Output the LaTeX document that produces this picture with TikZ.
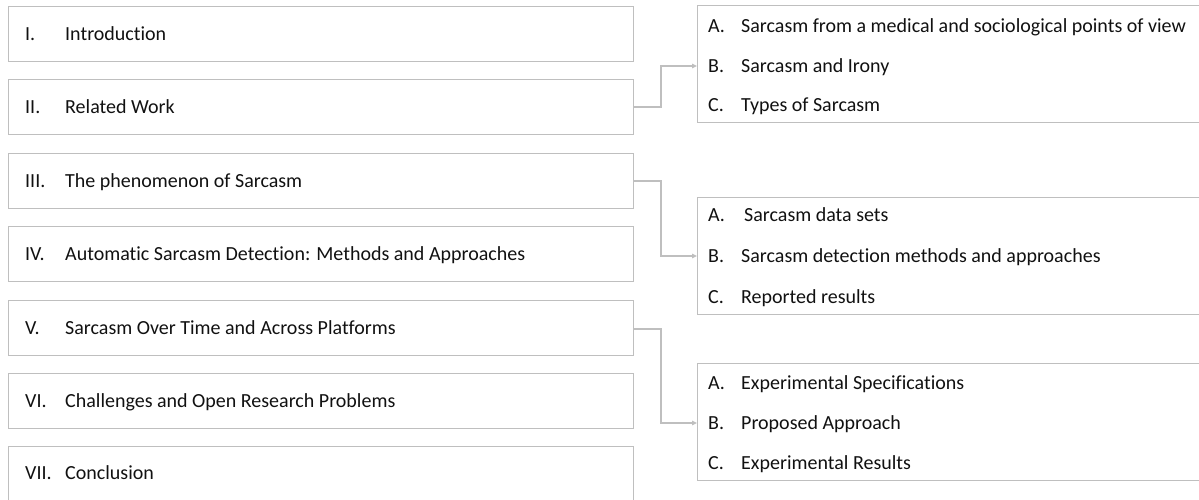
\documentclass[tikz,border=0pt]{standalone}
\usepackage{fontspec}
\setmainfont{Carlito}[Ligatures=NoCommon]
\usetikzlibrary{arrows.meta,calc}
\definecolor{boxgray}{HTML}{BFBFBF}
\definecolor{txt}{HTML}{111111}
\begin{document}
\begin{tikzpicture}[x=1pt,y=-1pt,
  secbox/.style={draw=boxgray,line width=1.3pt,rectangle,anchor=north west,minimum width=625pt,minimum height=55pt,inner sep=0pt},
  subbox/.style={draw=boxgray,line width=1.3pt,rectangle,anchor=north west,minimum width=510pt,minimum height=117pt,inner sep=0pt},
  lbl/.style={anchor=base west,yshift=-6.8pt,inner sep=0pt,font=\fontsize{20}{24}\selectfont,text=txt},
  conn/.style={draw=boxgray,line width=1.1pt,-{Triangle[length=5pt,width=4.5pt]}}]
\useasboundingbox (0,0) rectangle (1199,500);
% left section boxes
\node[secbox] (s1) at (8,6) {};
\node[secbox] (s2) at (8,79) {};
\node[secbox] (s3) at (8,153) {};
\node[secbox] (s4) at (8,226) {};
\node[secbox] (s5) at (8,300) {};
\node[secbox] (s6) at (8,373) {};
\node[secbox] (s7) at (8,446) {};
\foreach \n/\r/\t in {1/I./Introduction,2/II./Related Work,3/III./The phenomenon of Sarcasm,4/IV./Automatic Sarcasm Detection: Methods and Approaches,5/V./Sarcasm Over Time and Across Platforms,6/VI./Challenges and Open Research Problems} {
  \node[lbl] (n\n) at (s\n.west -| 25,0) {\r};
  \node[lbl] (t\n) at (s\n.west -| 65,0) {\t};
}
\node[lbl] (n7) at (25,473) {VII.};
\node[lbl] (t7) at (65,473) {Conclusion};
% right sub boxes
\node[subbox] (r1) at (697,5) {};
\node[subbox] (r2) at (697,197) {};
\node[subbox] (r3) at (697,363) {};
\node[lbl] (r1a) at (708,26) {A.};
\node[lbl] (r1at) at (741,26) {Sarcasm from a medical and sociological points of view};
\node[lbl] (r1b) at (708,66) {B.};
\node[lbl] (r1bt) at (741,66) {Sarcasm and Irony};
\node[lbl] (r1c) at (708,105) {C.};
\node[lbl] (r1ct) at (741,105) {Types of Sarcasm};
\node[lbl] (r2a) at (708,215) {A.};
\node[lbl] (r2at) at (744,215) {Sarcasm data sets};
\node[lbl] (r2b) at (708,256) {B.};
\node[lbl] (r2bt) at (741,256) {Sarcasm detection methods and approaches};
\node[lbl] (r2c) at (708,297) {C.};
\node[lbl] (r2ct) at (741,297) {Reported results};
\node[lbl] (r3a) at (708,383) {A.};
\node[lbl] (r3at) at (741,383) {Experimental Specifications};
\node[lbl] (r3b) at (708,423) {B.};
\node[lbl] (r3bt) at (741,423) {Proposed Approach};
\node[lbl] (r3c) at (708,463) {C.};
\node[lbl] (r3ct) at (741,463) {Experimental Results};
% connectors
\coordinate (j1) at (661,107);
\coordinate (j2) at (661,181);
\coordinate (j3) at (661,329);
\coordinate (e1) at (697,66);
\coordinate (e2) at (697,256);
\coordinate (e3) at (697,423);
\draw[conn] (s2.east |- j1) -- (j1) |- (e1);
\draw[conn] (s3.east |- j2) -- (j2) |- (e2);
\draw[conn] (s5.east |- j3) -- (j3) |- (e3);
\end{tikzpicture}
\end{document}
